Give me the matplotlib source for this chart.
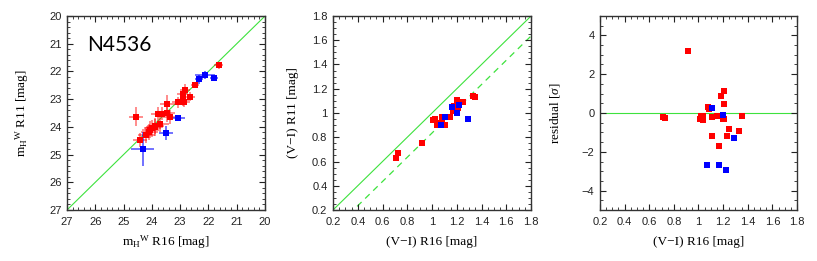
import numpy as np
import matplotlib
matplotlib.use("Agg")
import matplotlib.pyplot as plt
from matplotlib.ticker import MultipleLocator

# ---------------- data ----------------
# Panel 1: H-band Wesenheit magnitudes (R16 vs R11)
red_m16 = [21.64, 22.48, 22.82, 22.91, 22.64, 22.90, 22.85, 23.09, 23.45, 24.55, 23.78,
           23.65, 23.45, 23.37, 23.70, 23.88, 23.98, 24.05, 23.90, 24.20, 24.42, 24.10]
red_m11 = [21.78, 22.49, 22.67, 22.83, 22.91, 23.03, 23.10, 23.11, 23.16, 23.63, 23.54,
           23.52, 23.51, 23.65, 23.90, 23.97, 24.05, 24.10, 24.02, 24.30, 24.47, 24.18]
red_m16_err = [0.15, 0.15, 0.18, 0.2, 0.15, 0.2, 0.2, 0.2, 0.25, 0.25, 0.25,
               0.25, 0.25, 0.25, 0.3, 0.3, 0.3, 0.3, 0.3, 0.3, 0.25, 0.3]
red_m11_err = [0.12, 0.12, 0.2, 0.2, 0.15, 0.2, 0.2, 0.2, 0.3, 0.35, 0.25,
               0.25, 0.3, 0.25, 0.3, 0.3, 0.3, 0.3, 0.3, 0.3, 0.25, 0.3]

blue_m16 = [22.11, 22.34, 21.81, 23.09, 23.51, 24.33]
blue_m11 = [22.12, 22.29, 22.25, 23.68, 24.23, 24.80]
blue_m16_err = [0.35, 0.15, 0.15, 0.25, 0.25, 0.4]
blue_m11_err = [0.15, 0.15, 0.1, 0.12, 0.25, 0.6]

# Panel 2/3: (V-I) colours and residuals
red_vi16 = [0.71, 0.727, 0.917, 1.01, 1.02, 1.04, 1.04, 1.077, 1.083, 1.107, 1.107,
            1.148, 1.17, 1.18, 1.205, 1.21, 1.20, 1.21, 1.23, 1.25, 1.33, 1.35]
red_vi11 = [0.63, 0.67, 0.75, 0.94, 0.95, 0.92, 0.90, 0.97, 0.92, 0.90, 0.97,
            0.97, 1.02, 1.06, 1.11, 1.04, 1.00, 1.05, 1.09, 1.09, 1.14, 1.13]
red_resid = [-0.23, -0.28, 3.21, -0.29, -0.17, -0.14, -0.35, 0.31, 0.21, -0.23, -1.20,
             -0.14, -1.72, 0.87, 1.11, 0.44, -0.30, -0.30, -1.17, -0.84, -0.95, -0.14]

blue_vi16 = [1.07, 1.107, 1.164, 1.20, 1.22, 1.29]
blue_vi11 = [0.90, 0.97, 1.05, 1.00, 1.065, 0.953]
blue_resid = [-2.70, 0.26, -2.70, -0.10, -2.96, -1.27]

color_offset = -0.165

# ---------------- style ----------------
GREEN = "#3de23d"
RED = "#ff0000"
BLUE = "#0000ff"
SERIF = ["Liberation Serif", "DejaVu Serif"]
plt.rcParams["font.family"] = ["Liberation Sans", "DejaVu Sans"]
plt.rcParams["mathtext.fontset"] = "custom"
plt.rcParams["mathtext.rm"] = "Liberation Serif"
plt.rcParams["mathtext.it"] = "Liberation Serif:italic"

fig = plt.figure(figsize=(8.17, 2.61), dpi=100)
W = 0.2424
H = 0.7433
B = 0.1954
ax1 = fig.add_axes([0.0820, B, W, H])
ax2 = fig.add_axes([0.4076, B, W, H])
ax3 = fig.add_axes([0.7344, B, 0.2411, H])

LBL = 9.5
TCK = 8
MS = 4


def style(ax, ylab_x):
    for s in ax.spines.values():
        s.set_linewidth(1.0)
        s.set_color("#333333")
    ax.tick_params(which="both", direction="in", top=True, right=True,
                   labelsize=TCK, colors="#222222")
    ax.tick_params(axis="x", which="major", pad=5)
    ax.tick_params(axis="y", which="major", pad=4)
    ax.tick_params(which="major", length=4.5, width=0.8)
    ax.tick_params(which="minor", length=2.2, width=0.6)
    ax.xaxis.label.set_va("center")
    ax.xaxis.set_label_coords(0.5, -0.165)
    ax.yaxis.label.set_va("center")
    ax.yaxis.set_label_coords(ylab_x, 0.5)


# ---- Panel 1 ----
ax1.plot([27, 20], [27, 20], color=GREEN, lw=0.8, zorder=1)
ax1.errorbar(red_m16, red_m11, xerr=red_m16_err, yerr=red_m11_err, fmt="none",
             ecolor=RED, alpha=0.45, elinewidth=1.4, capsize=0, zorder=2)
ax1.errorbar(blue_m16, blue_m11, xerr=blue_m16_err, yerr=blue_m11_err, fmt="none",
             ecolor=BLUE, alpha=0.6, elinewidth=1.3, capsize=0, zorder=2)
ax1.plot(red_m16, red_m11, "s", color=RED, ms=MS, mew=0, zorder=3)
ax1.plot(blue_m16, blue_m11, "s", color=BLUE, ms=MS, mew=0, zorder=3)
ax1.set_xlim(27, 20)
ax1.set_ylim(27, 20)
ax1.xaxis.set_major_locator(MultipleLocator(1))
ax1.yaxis.set_major_locator(MultipleLocator(1))
ax1.xaxis.set_minor_locator(MultipleLocator(0.2))
ax1.yaxis.set_minor_locator(MultipleLocator(0.2))
ax1.set_xlabel(r"m$_\mathrm{H}$$^\mathrm{W}$ R16 [mag]", family=SERIF, fontsize=LBL)
ax1.set_ylabel(r"m$_\mathrm{H}$$^\mathrm{W}$ R11 [mag]", family=SERIF, fontsize=LBL)
style(ax1, -0.227)
ax1.text(0.10, 0.85, "N4536", transform=ax1.transAxes, fontsize=15,
         family=["Lato", "DejaVu Sans"], va="center", ha="left")

# ---- Panel 2 ----
ax2.plot([0.2, 1.8], [0.2, 1.8], color=GREEN, lw=0.8, zorder=1)
ax2.plot([0.2, 1.8], [0.2 + color_offset, 1.8 + color_offset], color=GREEN, lw=0.9,
         ls=(0, (5, 4)), zorder=1)
ax2.plot(red_vi16, red_vi11, "s", color=RED, ms=MS, mew=0, zorder=3)
ax2.plot(blue_vi16, blue_vi11, "s", color=BLUE, ms=MS, mew=0, zorder=3)
ax2.set_xlim(0.2, 1.8)
ax2.set_ylim(0.2, 1.8)
ax2.xaxis.set_major_locator(MultipleLocator(0.2))
ax2.yaxis.set_major_locator(MultipleLocator(0.2))
ax2.xaxis.set_minor_locator(MultipleLocator(0.05))
ax2.yaxis.set_minor_locator(MultipleLocator(0.05))
fmt = lambda v, p: ("%g" % round(v, 2))
ax2.xaxis.set_major_formatter(fmt)
ax2.yaxis.set_major_formatter(fmt)
ax2.set_xlabel("(V\u2212I) R16 [mag]", family=SERIF, fontsize=LBL)
ax2.set_ylabel("(V\u2212I) R11 [mag]", family=SERIF, fontsize=LBL)
style(ax2, -0.202)

# ---- Panel 3 ----
ax3.axhline(0, color=GREEN, lw=0.8, zorder=1)
ax3.plot(red_vi16, red_resid, "s", color=RED, ms=MS, mew=0, zorder=3)
ax3.plot(blue_vi16, blue_resid, "s", color=BLUE, ms=MS, mew=0, zorder=3)
ax3.set_xlim(0.2, 1.8)
ax3.set_ylim(-5, 5)
ax3.xaxis.set_major_locator(MultipleLocator(0.2))
ax3.xaxis.set_minor_locator(MultipleLocator(0.05))
ax3.yaxis.set_major_locator(MultipleLocator(2))
ax3.yaxis.set_minor_locator(MultipleLocator(0.5))
ax3.xaxis.set_major_formatter(fmt)
ax3.yaxis.set_major_formatter(lambda v, p: ("%g" % v).replace("-", "\u2212"))
ax3.set_xlabel("(V\u2212I) R16 [mag]", family=SERIF, fontsize=LBL)
ax3.set_ylabel(r"residual [$\sigma$]", family=SERIF, fontsize=LBL)
style(ax3, -0.228)

fig.savefig("out.png", dpi=100)
